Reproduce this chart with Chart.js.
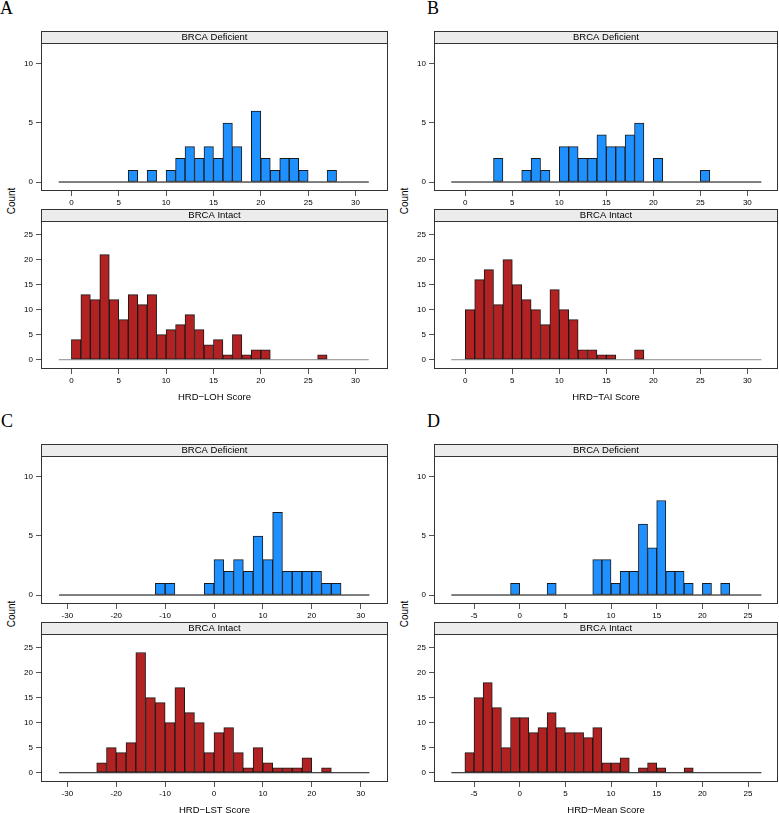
<!DOCTYPE html>
<html lang="en">
<head>
  <meta charset="UTF-8">
  <title>HRD scores by BRCA status</title>
  <script src="https://cdn.jsdelivr.net/npm/chart.js"></script>
  <style>
    * {
      margin: 0;
      padding: 0;
      box-sizing: border-box;
    }

    body {
      width: 779px;
      height: 813px;
      overflow: hidden;
      position: relative;
      background: #fff;
      font-family: 'Liberation Sans', Arial, sans-serif;
    }

    canvas {
      position: absolute;
    }

    .letter {
      position: absolute;
      font-family: 'Liberation Serif', 'Times New Roman', serif;
      font-size: 18px;
      line-height: 18px;
      color: #000;
    }

    .count {
      position: absolute;
      width: 40px;
      height: 12px;
      line-height: 12px;
      font-size: 10px;
      text-align: center;
      color: #000;
      transform: rotate(-90deg);
    }
  </style>
</head>
<body>
  <div class="letter" style="left:0px; top:-1px;">A</div>
  <div class="letter" style="left:427px; top:-1px;">B</div>
  <div class="letter" style="left:1px; top:412px;">C</div>
  <div class="letter" style="left:427px; top:412px;">D</div>

  <div class="count" style="left:-8px; top:195px;">Count</div>
  <div class="count" style="left:385px; top:195px;">Count</div>
  <div class="count" style="left:-8px; top:608px;">Count</div>
  <div class="count" style="left:385px; top:608px;">Count</div>

  <script>
    // histogram counts, one entry per bin starting at the given first bin
    const lohDefFirst = 6;
    const lohDefCounts = [1, 0, 1, 0, 1, 2, 3, 2, 3, 2, 5, 3, 0, 6, 2, 1, 2, 2, 1, 0, 0, 1];
    const lohIntFirst = 0;
    const lohIntCounts = [4, 13, 12, 21, 12, 8, 13, 11, 13, 5, 6, 7, 9, 6, 3, 4, 1, 5, 1, 2, 2, 0, 0, 0, 0, 0, 1];

    const taiDefFirst = 3;
    const taiDefCounts = [2, 0, 0, 1, 2, 1, 0, 3, 3, 2, 2, 4, 3, 3, 4, 5, 0, 2, 0, 0, 0, 0, 1];
    const taiIntFirst = 0;
    const taiIntCounts = [10, 16, 18, 11, 20, 15, 12, 10, 7, 14, 10, 8, 2, 2, 1, 1, 0, 0, 2];

    const lstDefFirst = -12;
    const lstDefCounts = [1, 1, 0, 0, 0, 1, 3, 2, 3, 2, 5, 3, 7, 2, 2, 2, 2, 1, 1];
    const lstIntFirst = -24;
    const lstIntCounts = [2, 5, 4, 6, 24, 15, 14, 10, 17, 12, 10, 4, 8, 9, 4, 1, 5, 2, 1, 1, 1, 3, 0, 1];

    const meanDefFirst = -1;
    const meanDefCounts = [1, 0, 0, 0, 1, 0, 0, 0, 0, 3, 3, 1, 2, 2, 6, 4, 8, 2, 2, 1, 0, 1, 0, 1];
    const meanIntFirst = -6;
    const meanIntCounts = [4, 15, 18, 13, 5, 11, 11, 8, 9, 12, 9, 8, 8, 7, 9, 2, 2, 3, 0, 1, 2, 1, 0, 0, 1];

    // axis ticks
    const scoreTicks = [0, 5, 10, 15, 20, 25, 30];
    const lstTicks = [-30, -20, -10, 0, 10, 20, 30];
    const meanTicks = [-5, 0, 5, 10, 15, 20, 25];
    const defCountTicks = [0, 5, 10];
    const intCountTicks = [0, 5, 10, 15, 20, 25];

    const stripNames = ['BRCA Deficient', 'BRCA Intact'];

    Chart.defaults.font.family = "'Liberation Sans', Arial, sans-serif";

    const stripH = 12;
    const cols = [{ left: 1, width: 388 }, { left: 394, width: 385 }];
    const rows = [{ top: 31, bottom: 209 }, { top: 444, bottom: 622 }];

    const panels = [
      { col: 0, row: 0, title: 'HRD−LOH Score', bin: 1, xMin: -3.21, xMax: 33.43, base: [-1.34, 31.4], xTicks: scoreTicks,
        def: [lohDefFirst, lohDefCounts], int: [lohIntFirst, lohIntCounts], intBase: '#8a8a8a' },
      { col: 1, row: 0, title: 'HRD−TAI Score', bin: 1, xMin: -3.33, xMax: 33.26, base: [-1.49, 31.49], xTicks: scoreTicks,
        def: [taiDefFirst, taiDefCounts], int: [taiIntFirst, taiIntCounts], intBase: '#8a8a8a' },
      { col: 0, row: 1, title: 'HRD−LST Score', bin: 2, xMin: -35.4, xMax: 35.6, base: [-31.7, 31.8], xTicks: lstTicks,
        def: [lstDefFirst, lstDefCounts], int: [lstIntFirst, lstIntCounts], intBase: '#111' },
      { col: 1, row: 1, title: 'HRD−Mean Score', bin: 1, xMin: -9.38, xMax: 28.28, base: [-7.48, 26.46], xTicks: meanTicks,
        def: [meanDefFirst, meanDefCounts], int: [meanIntFirst, meanIntCounts], intBase: '#111' }
    ];

    const histData = (first, width, counts) => {
      const pts = [];
      counts.forEach((c, i) => {
        if (c > 0) pts.push({ x: first + width * i + width / 2, y: c });
      });
      return pts;
    };

    // panel box and lattice-style strip above it
    const stripPlugin = {
      id: 'strip',
      afterDraw(chart, args, opts) {
        const { ctx, chartArea: a } = chart;
        ctx.save();
        ctx.strokeStyle = '#333';
        ctx.lineWidth = 1;
        ctx.strokeRect(a.left + 0.5, a.top + 0.5, a.width - 1, a.height - 1);
        ctx.fillStyle = '#ececec';
        ctx.fillRect(a.left, a.top - stripH, a.width, stripH);
        ctx.strokeRect(a.left + 0.5, a.top - stripH + 0.5, a.width - 1, stripH);
        ctx.fillStyle = '#000';
        ctx.font = "9.5px 'Liberation Sans', Arial, sans-serif";
        ctx.textAlign = 'center';
        ctx.textBaseline = 'middle';
        ctx.fillText(opts.text, (a.left + a.right) / 2, a.top - stripH / 2 + 0.5);
        ctx.restore();
      }
    };

    const makeChart = (p, lower) => {
      const col = cols[p.col];
      const stripTop = lower ? rows[p.row].bottom : rows[p.row].top;
      const xh = lower ? 34 : 20;
      const canvasTop = stripTop - 2;
      const height = 2 + stripH + 148 + xh;

      const canvas = document.createElement('canvas');
      canvas.width = col.width;
      canvas.height = height;
      canvas.style.left = col.left + 'px';
      canvas.style.top = canvasTop + 'px';
      document.body.appendChild(canvas);

      const [first, counts] = lower ? p.int : p.def;
      const yTicks = lower ? intCountTicks : defCountTicks;

      return new Chart(canvas, {
        type: 'bar',
        data: {
          datasets: [
            {
              type: 'line',
              data: [{ x: p.base[0], y: 0 }, { x: p.base[1], y: 0 }],
              borderColor: lower ? p.intBase : '#000',
              borderWidth: 1,
              pointRadius: 0,
              order: 2
            },
            {
              data: histData(first, p.bin, counts),
              backgroundColor: lower ? '#b22222' : '#1e90ff',
              borderColor: '#1a1a1a',
              borderWidth: 1,
              borderSkipped: false,
              barPercentage: 1,
              categoryPercentage: 1,
              order: 1
            }
          ]
        },
        options: {
          responsive: false,
          animation: false,
          layout: { padding: { top: 2 + stripH, right: 1, left: 0, bottom: 0 } },
          plugins: {
            legend: { display: false },
            tooltip: { enabled: false },
            strip: { text: stripNames[lower ? 1 : 0] }
          },
          scales: {
            x: {
              type: 'linear',
              min: p.xMin,
              max: p.xMax,
              offset: false,
              grid: { offset: false, drawOnChartArea: false, tickLength: 5, color: '#555' },
              border: { display: false },
              ticks: { font: { size: 8 }, color: '#000', padding: 2, maxRotation: 0, autoSkip: false },
              afterBuildTicks: (s) => { s.ticks = p.xTicks.map(v => ({ value: v })); },
              afterFit: (s) => { s.height = xh; },
              title: {
                display: lower,
                text: p.title,
                color: '#000',
                font: { size: 9.5 },
                padding: { top: 0, bottom: 0 }
              }
            },
            y: {
              type: 'linear',
              min: lower ? -1.85 : -0.76,
              max: lower ? 27.7 : 11.77,
              grid: { drawOnChartArea: false, tickLength: 5, color: '#555' },
              border: { display: false },
              ticks: { font: { size: 8 }, color: '#000', padding: 3 },
              afterBuildTicks: (s) => { s.ticks = yTicks.map(v => ({ value: v })); },
              afterFit: (s) => { s.width = 40; }
            }
          }
        },
        plugins: [stripPlugin]
      });
    };

    panels.forEach(p => {
      makeChart(p, false);
      makeChart(p, true);
    });
  </script>
</body>
</html>
